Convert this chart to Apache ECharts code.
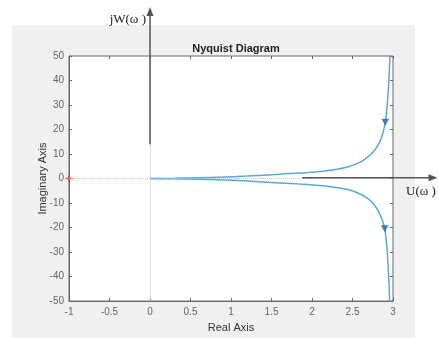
<!DOCTYPE html>
<html>
<head>
<meta charset="utf-8">
<script src="https://cdn.jsdelivr.net/npm/echarts@6/dist/echarts.min.js"></script>
<style>
  html, body { margin: 0; padding: 0; background: #fff; }
  #chart { width: 438px; height: 338px; }
</style>
</head>
<body>
<div id="chart"></div>
<script>
// values: upper branch (positive frequencies), real / imaginary
const upperReal = [0, 0.3, 0.6, 0.9, 1.2, 1.6, 2.0, 2.25, 2.45, 2.6, 2.68, 2.75, 2.81, 2.86, 2.9, 2.92, 2.94, 2.955, 2.965];
const upperImag = [0, 0.08, 0.3, 0.6, 1.0, 1.8, 2.6, 3.5, 4.8, 6.8, 8.6, 10.6, 13.3, 17, 22, 27, 35, 44, 52];
// lower branch (negative frequencies)
const lowerReal = [0, 0.3, 0.6, 0.9, 1.2, 1.6, 2.0, 2.23, 2.45, 2.6, 2.69, 2.76, 2.83, 2.88, 2.905, 2.925, 2.94, 2.952, 2.96];
const lowerImag = [0, -0.08, -0.3, -0.6, -1.0, -1.8, -2.6, -3.3, -4.6, -6.4, -8.2, -10.4, -14, -18, -22, -28, -36, -44, -52];
// direction arrows on the curve
const arrowPts = [[2.905, 23], [2.898, -20.5]];
const criticalPt = [[-1, 0]];
const xTicks = { min: -1, max: 3, step: 0.5 };
const yTicks = { min: -50, max: 50, step: 10 };

const zip = (a, b) => a.map((v, i) => [v, b[i]]);

const chart = echarts.init(document.getElementById('chart'));
const tickLabel = { color: '#666', fontSize: 10, fontFamily: 'Liberation Sans' };
const axisColor = '#666';

const curveStyle = { color: '#5aa8d8', width: 1.5 };

chart.setOption({
  backgroundColor: '#fff',
  animation: false,
  title: {
    text: 'Nyquist Diagram',
    left: 231, top: 38, textAlign: 'center',
    textStyle: { fontSize: 11, fontWeight: 'bold', color: '#222', fontFamily: 'Liberation Sans' }
  },
  grid: {
    left: 69, right: 45, top: 56, bottom: 34,
    show: true, backgroundColor: '#fff', borderColor: axisColor, borderWidth: 1
  },
  xAxis: [{
    type: 'value', min: xTicks.min, max: xTicks.max, interval: xTicks.step,
    name: 'Real Axis', nameLocation: 'middle', nameGap: 19,
    nameTextStyle: { fontSize: 11, color: '#333', fontFamily: 'Liberation Sans' },
    axisLine: { show: true, onZero: false, lineStyle: { color: axisColor } },
    axisTick: { inside: true, length: 3, lineStyle: { color: axisColor } },
    axisLabel: Object.assign({ margin: 6 }, tickLabel),
    splitLine: { show: false }
  }, {
    type: 'value', position: 'top', min: xTicks.min, max: xTicks.max, interval: xTicks.step,
    axisLine: { show: false, onZero: false },
    axisTick: { inside: true, length: 3, lineStyle: { color: axisColor } },
    axisLabel: { show: false }, splitLine: { show: false }
  }],
  yAxis: [{
    type: 'value', min: yTicks.min, max: yTicks.max, interval: yTicks.step,
    name: 'Imaginary Axis', nameLocation: 'middle', nameGap: 21, nameMoveOverlap: false,
    nameTextStyle: { fontSize: 11, color: '#333', fontFamily: 'Liberation Sans' },
    axisLine: { show: true, onZero: false, lineStyle: { color: axisColor } },
    axisTick: { show: true, inside: true, length: 3, lineStyle: { color: axisColor } },
    axisLabel: Object.assign({ margin: 5 }, tickLabel),
    splitLine: { show: false }
  }, {
    type: 'value', position: 'right', min: yTicks.min, max: yTicks.max, interval: yTicks.step,
    axisLine: { show: false, onZero: false },
    axisTick: { show: true, inside: true, length: 3, lineStyle: { color: axisColor } },
    axisLabel: { show: false }, splitLine: { show: false }
  }],
  series: [
    {
      type: 'line', data: zip(upperReal, upperImag), showSymbol: false,
      smooth: 0.35, lineStyle: curveStyle, z: 3,
      markLine: {
        silent: true, symbol: 'none', label: { show: false },
        lineStyle: { color: '#c4c4c4', type: 'dotted', width: 1 },
        data: [{ xAxis: 0 }, { yAxis: 0 }]
      }
    },
    {
      type: 'line', data: zip(lowerReal, lowerImag), showSymbol: false,
      smooth: 0.35, lineStyle: curveStyle, z: 3
    },
    {
      type: 'scatter', data: arrowPts, symbol: 'triangle', symbolSize: [8, 7], symbolRotate: 180,
      itemStyle: { color: '#1f6aa5' }, z: 4
    },
    {
      type: 'scatter', data: criticalPt, symbol: 'path://M0,4h10v2h-10z M4,0h2v10h-2z',
      symbolSize: 7, itemStyle: { color: '#e33' }, z: 4
    }
  ]
});

// hand-drawn axis annotations laid over the figure
const arrowColor = '#555';
const vArrow = [chart.convertToPixel({ gridIndex: 0 }, [0, 14]), chart.convertToPixel({ gridIndex: 0 }, [0, 70])];
const hArrow = [chart.convertToPixel({ gridIndex: 0 }, [1.88, 0.3]), chart.convertToPixel({ gridIndex: 0 }, [3.55, 0.3])];
chart.setOption({
  graphic: [
    {
      type: 'rect', z: -10, silent: true,
      shape: { x: 12, y: 25, width: 403, height: 313 },
      style: { fill: '#f0f0f0' }
    },
    {
      type: 'line', z: 50, silent: true,
      shape: { x1: vArrow[0][0], y1: vArrow[0][1], x2: vArrow[1][0], y2: vArrow[1][1] + 6 },
      style: { stroke: arrowColor, lineWidth: 1.5 }
    },
    {
      type: 'polygon', z: 50, silent: true,
      shape: { points: [[vArrow[1][0], vArrow[1][1]], [vArrow[1][0] - 3.5, vArrow[1][1] + 9], [vArrow[1][0] + 3.5, vArrow[1][1] + 9]] },
      style: { fill: arrowColor }
    },
    {
      type: 'text', z: 50, silent: true,
      x: vArrow[1][0] - 4, y: 20,
      style: { text: 'jW(ω )', fill: '#222', font: '13px "Liberation Serif"', align: 'right', verticalAlign: 'middle' }
    },
    {
      type: 'line', z: 50, silent: true,
      shape: { x1: hArrow[0][0], y1: hArrow[0][1], x2: hArrow[1][0] - 6, y2: hArrow[1][1] },
      style: { stroke: arrowColor, lineWidth: 1.5 }
    },
    {
      type: 'polygon', z: 50, silent: true,
      shape: { points: [[hArrow[1][0], hArrow[1][1]], [hArrow[1][0] - 9, hArrow[1][1] - 3.5], [hArrow[1][0] - 9, hArrow[1][1] + 3.5]] },
      style: { fill: arrowColor }
    },
    {
      type: 'text', z: 50, silent: true,
      x: 406, y: 192,
      style: { text: 'U(ω )', fill: '#222', font: '13px "Liberation Serif"', align: 'left', verticalAlign: 'middle' }
    }
  ]
});
</script>
</body>
</html>
